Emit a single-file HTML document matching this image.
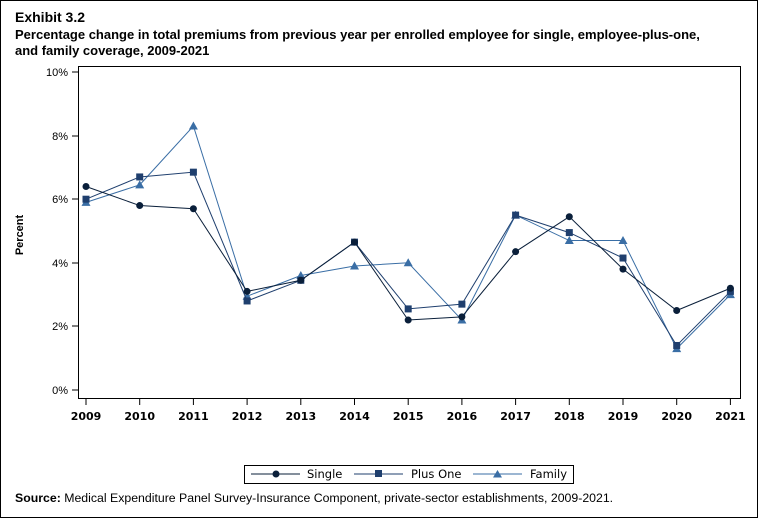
<!DOCTYPE html><html><head><style>body{margin:0;background:#fff}svg{display:block}</style></head><body>
<svg width="758" height="518" xmlns="http://www.w3.org/2000/svg" font-family="Liberation Sans, sans-serif">
<rect x="0.5" y="0.5" width="757" height="517" fill="#fff" stroke="#000"/>
<text x="15" y="22" font-size="14" font-weight="bold">Exhibit 3.2</text>
<text x="15" y="39" font-size="13" font-weight="bold">Percentage change in total premiums from previous year per enrolled employee for single, employee-plus-one,</text>
<text x="15" y="55" font-size="13" font-weight="bold">and family coverage, 2009-2021</text>
<rect x="78.5" y="66.5" width="662" height="332" fill="none" stroke="#000"/>
<g font-size="11" text-anchor="end">
<text x="68" y="76">10%</text><text x="68" y="140">8%</text><text x="68" y="203">6%</text><text x="68" y="267">4%</text><text x="68" y="330">2%</text><text x="68" y="394">0%</text>
</g>
<g stroke="#000"><line x1="72" x2="78" y1="72" y2="72"/><line x1="72" x2="78" y1="136" y2="136"/><line x1="72" x2="78" y1="199" y2="199"/><line x1="72" x2="78" y1="263" y2="263"/><line x1="72" x2="78" y1="326" y2="326"/><line x1="72" x2="78" y1="390" y2="390"/></g>
<text transform="translate(23,235) rotate(-90)" font-size="11" font-weight="bold" text-anchor="middle">Percent</text>
<g id="xt" font-size="11" font-weight="bold" text-anchor="middle" font-family="DejaVu Sans, sans-serif"></g>
<g id="series"></g>
<rect x="244.5" y="465.5" width="329" height="18" fill="none" stroke="#000"/>
<g font-size="11.5" font-family="DejaVu Sans, sans-serif">
<line x1="251" x2="300" y1="474" y2="474" stroke="#0a1f3a"/><circle cx="276" cy="474" r="3.5" fill="#0a1f3a"/><text x="307" y="478">Single</text>
<line x1="354" x2="403" y1="474" y2="474" stroke="#1f3f6e"/><rect x="375" y="470" width="7" height="7" fill="#1f3f6e"/><text x="411" y="478">Plus One</text>
<line x1="473" x2="522" y1="474" y2="474" stroke="#3a6ea5"/><path d="M497.5,470 L502,477.5 L493,477.5Z" fill="#3a6ea5"/><text x="530" y="478">Family</text>
</g>
<text x="15" y="502" font-size="12.3"><tspan font-weight="bold">Source:</tspan> Medical Expenditure Panel Survey-Insurance Component, private-sector establishments, 2009-2021.</text>
<script>
var ns="http://www.w3.org/2000/svg";
function X(i){return 86+i*53.7}function Y(v){return 390-v*31.8}
var xt=document.getElementById("xt");
for(var i=0;i<13;i++){var t=document.createElementNS(ns,"text");t.setAttribute("x",X(i));t.setAttribute("y",420);t.textContent=2009+i;xt.appendChild(t);
var l=document.createElementNS(ns,"line");l.setAttribute("x1",X(i));l.setAttribute("x2",X(i));l.setAttribute("y1",399);l.setAttribute("y2",405);l.setAttribute("stroke","#000");xt.appendChild(l);}
var S=[[6.4,5.8,5.7,3.1,3.45,4.65,2.2,2.3,4.35,5.45,3.8,2.5,3.2],[6.0,6.7,6.85,2.8,3.45,4.65,2.55,2.7,5.5,4.95,4.15,1.4,3.1],[5.9,6.45,8.3,2.95,3.6,3.9,4.0,2.2,5.5,4.7,4.7,1.3,3.0]];
var C=["#0a1f3a","#1f3f6e","#3a6ea5"];var g=document.getElementById("series");
[2,1,0].forEach(function(s){var d=S[s].map(function(v,i){return X(i)+","+Y(v)}).join(" ");
var p=document.createElementNS(ns,"polyline");p.setAttribute("points",d);p.setAttribute("fill","none");p.setAttribute("stroke",C[s]);g.appendChild(p);
S[s].forEach(function(v,i){var x=X(i),y=Y(v),e;
if(s==0){e=document.createElementNS(ns,"circle");e.setAttribute("cx",x);e.setAttribute("cy",y);e.setAttribute("r",3.5);}
else if(s==1){e=document.createElementNS(ns,"rect");e.setAttribute("x",x-3.5);e.setAttribute("y",y-3.5);e.setAttribute("width",7);e.setAttribute("height",7);}
else{e=document.createElementNS(ns,"path");e.setAttribute("d","M"+x+","+(y-4.5)+" L"+(x+4.5)+","+(y+3.5)+" L"+(x-4.5)+","+(y+3.5)+"Z");}
e.setAttribute("fill",C[s]);g.appendChild(e);});});
</script>
</svg></body></html>
